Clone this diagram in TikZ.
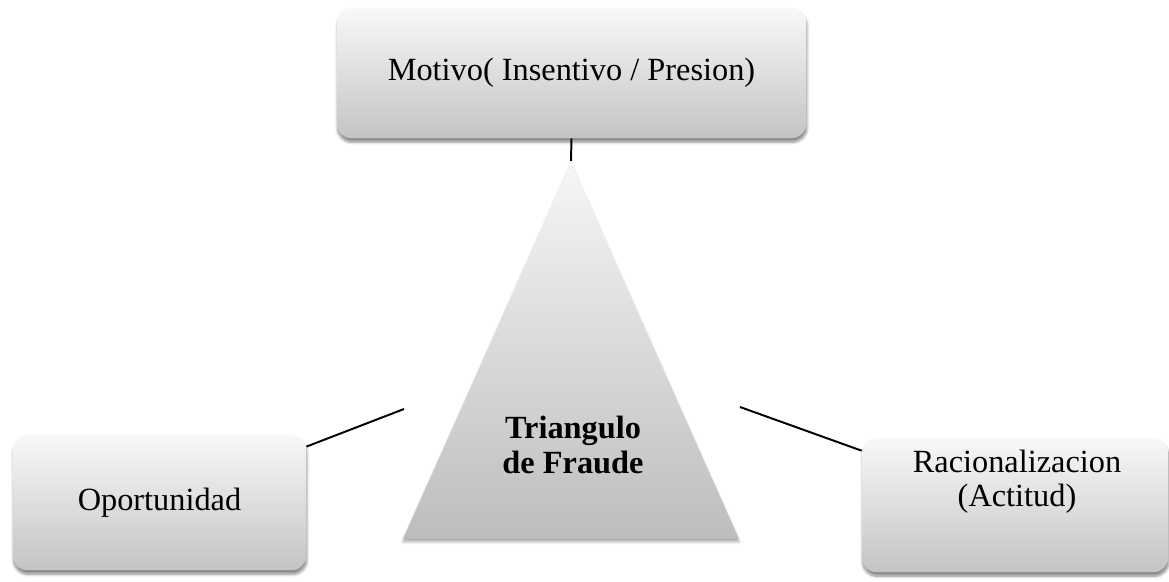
\documentclass[tikz,border=0pt]{standalone}
\usepackage{fontspec}
\setmainfont{Liberation Serif}
\usepackage{tikz}
\usetikzlibrary{calc, shadows.blur, positioning}
\definecolor{boxTop}{HTML}{F8F8F8}
\definecolor{boxBottom}{HTML}{C4C4C4}
\definecolor{triTop}{HTML}{F6F6F6}
\definecolor{triBottom}{HTML}{BDBDBD}

\begin{document}
\begin{tikzpicture}[x=0.025cm, y=-0.025cm,
        box/.style={rectangle, draw=none, top color=boxTop, bottom color=boxBottom, rounded corners=10pt, align=center, font=\fontsize{23}{24}\selectfont,
            blur shadow={shadow xshift=0.5pt, shadow yshift=-3pt, shadow blur steps=6, shadow opacity=45}},
        tri/.style={top color=triTop, bottom color=triBottom, blur shadow={shadow xshift=0pt, shadow yshift=-2pt, shadow blur steps=4, shadow opacity=35}},
        txt/.style={align=center, font=\fontsize{23}{24}\selectfont},
        link/.style={line width=1.4pt, color=black}]

        \useasboundingbox (0,0) rectangle (1169,581);

        % Top: motive
        \node[box, minimum width=11.73cm, minimum height=3.25cm] (motivo) at (571.5,73) {Motivo( Insentivo / Presion)};

        % Triangle
        \coordinate (apex) at (571,163);
        \coordinate (baseL) at (403,539);
        \coordinate (baseR) at (739,539);
        \path[tri] (apex) -- (baseR) -- (baseL) -- cycle;
        \node[txt, font=\fontsize{23}{25}\selectfont\bfseries] (fraude) at (573,445) {Triangulo\\de Fraude};

        % Bottom corners
        \node[box, minimum width=7.33cm, minimum height=3.38cm] (oportunidad) at (159.5,502.5) {Oportunidad};
        \node[box, minimum width=7.65cm, minimum height=3.35cm] (racional) at (1015,505) {};
        \node[txt] (racionaltxt) at (1017,482) {Racionalizacion\\(Actitud)};

        % Lines
        \coordinate (topEnd) at (571,161);
        \coordinate (leftEnd) at (404,409);
        \coordinate (rightEnd) at (740,407);
        \draw[link] (motivo.south) -- (topEnd);
        \draw[link] ($(oportunidad.north east)+(0,12)$) -- (leftEnd);
        \draw[link] (rightEnd) -- ($(racional.north west)+(0,13)$);
    \end{tikzpicture}
\end{document}
